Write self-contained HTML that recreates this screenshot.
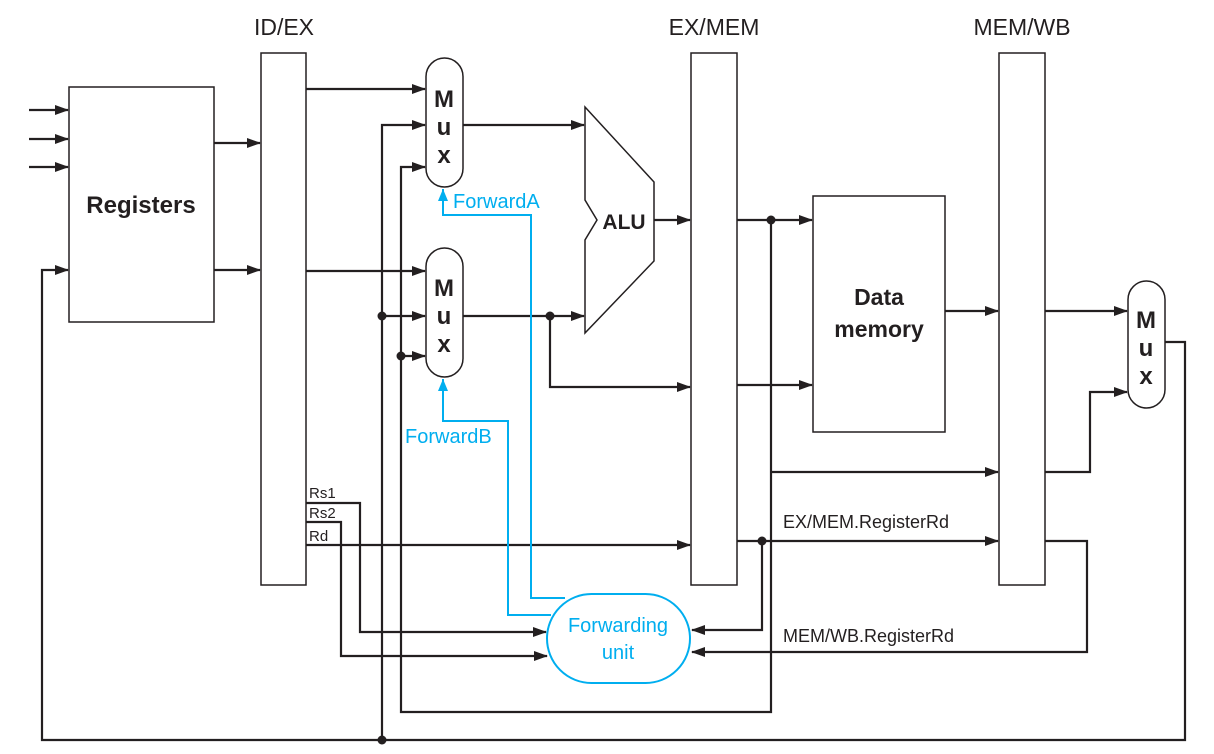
<!DOCTYPE html>
<html><head><meta charset="utf-8"><style>
html,body{margin:0;padding:0;background:#fff;}
svg{display:block;}
text{font-family:"Liberation Sans",sans-serif;}
</style></head><body>
<svg width="1214" height="754" viewBox="0 0 1214 754" xmlns="http://www.w3.org/2000/svg">
<defs>
<marker id="a" markerWidth="14" markerHeight="10" refX="13" refY="5" orient="auto" markerUnits="userSpaceOnUse"><path d="M0,0 L14,5 L0,10 z" fill="#231f20"/></marker>
<marker id="b" markerWidth="12" markerHeight="10" refX="12" refY="5" orient="auto" markerUnits="userSpaceOnUse"><path d="M0,0 L12,5 L0,10 z" fill="#00aeef"/></marker>
</defs>
<g fill="none" stroke="#231f20" stroke-width="1.5">
<rect x="69" y="87" width="145" height="235"/>
<rect x="261" y="53" width="45" height="532"/>
<rect x="691" y="53" width="46" height="532"/>
<rect x="999" y="53" width="46" height="532"/>
<rect x="813" y="196" width="132" height="236"/>
<rect x="426" y="58" width="37" height="129" rx="18.5"/>
<rect x="426" y="248" width="37" height="129" rx="18.5"/>
<rect x="1128" y="281" width="37" height="127" rx="18.5"/>
<path d="M585,107 L654,182 L654,261 L585,333 L585,240 L597,220 L585,200 Z"/>
</g>
<g fill="none" stroke="#231f20" stroke-width="2.2">
<path d="M29,110 H68" marker-end="url(#a)"/>
<path d="M29,139 H68" marker-end="url(#a)"/>
<path d="M29,167 H68" marker-end="url(#a)"/>
<path d="M214,143 H260" marker-end="url(#a)"/>
<path d="M214,270 H260" marker-end="url(#a)"/>
<path d="M306,89 H425" marker-end="url(#a)"/>
<path d="M306,271 H425" marker-end="url(#a)"/>
<path d="M382,740 V125 H425" marker-end="url(#a)"/>
<path d="M382,316 H425" marker-end="url(#a)"/>
<path d="M771,220 V712 H401 V167 H425" marker-end="url(#a)"/>
<path d="M401,356 H425" marker-end="url(#a)"/>
<path d="M463,125 H584" marker-end="url(#a)"/>
<path d="M463,316 H584" marker-end="url(#a)"/>
<path d="M550,316 V387 H690" marker-end="url(#a)"/>
<path d="M654,220 H690" marker-end="url(#a)"/>
<path d="M737,220 H812" marker-end="url(#a)"/>
<path d="M737,385 H812" marker-end="url(#a)"/>
<path d="M771,472 H998" marker-end="url(#a)"/>
<path d="M306,545 H690" marker-end="url(#a)"/>
<path d="M737,541 H998" marker-end="url(#a)"/>
<path d="M762,541 V630 H692" marker-end="url(#a)"/>
<path d="M1045,541 H1087 V652 H692" marker-end="url(#a)"/>
<path d="M945,311 H998" marker-end="url(#a)"/>
<path d="M1045,311 H1127" marker-end="url(#a)"/>
<path d="M1045,472 H1090 V392 H1127" marker-end="url(#a)"/>
<path d="M1165,342 H1185 V740 H42 V270 H68" marker-end="url(#a)"/>
<path d="M306,503 H360 V632 H546" marker-end="url(#a)"/>
<path d="M306,522 H341 V656 H547" marker-end="url(#a)"/>
</g>
<g fill="#231f20">
<circle cx="382" cy="316" r="4.5"/><circle cx="401" cy="356" r="4.5"/>
<circle cx="550" cy="316" r="4.5"/><circle cx="771" cy="220" r="4.5"/>
<circle cx="762" cy="541" r="4.5"/><circle cx="382" cy="740" r="4.5"/>
</g>
<g fill="none" stroke="#00aeef" stroke-width="2">
<rect x="547" y="594" width="143" height="89" rx="44.5"/>
<path d="M565,598 H531 V215 H443 V189" marker-end="url(#b)"/>
<path d="M551,615 H508 V421 H443 V379" marker-end="url(#b)"/>
</g>
<g fill="#231f20" font-weight="bold" font-size="24" text-anchor="middle">
<text x="141" y="213">Registers</text>
<text x="444" y="107">M</text><text x="444" y="135">u</text><text x="444" y="163">x</text>
<text x="444" y="296">M</text><text x="444" y="324">u</text><text x="444" y="352">x</text>
<text x="1146" y="328">M</text><text x="1146" y="356">u</text><text x="1146" y="384">x</text>
<text x="624" y="229" font-size="21">ALU</text>
<text x="879" y="305" font-size="23">Data</text>
<text x="879" y="337" font-size="23">memory</text>
</g>
<g fill="#231f20" font-size="23" text-anchor="middle">
<text x="284" y="35">ID/EX</text>
<text x="714" y="35">EX/MEM</text>
<text x="1022" y="35">MEM/WB</text>
</g>
<g fill="#231f20" font-size="18">
<text x="783" y="528">EX/MEM.RegisterRd</text>
<text x="783" y="642">MEM/WB.RegisterRd</text>
<text x="309" y="498" font-size="15">Rs1</text>
<text x="309" y="518" font-size="15">Rs2</text>
<text x="309" y="541" font-size="15">Rd</text>
</g>
<g fill="#00aeef" font-size="20">
<text x="453" y="208">ForwardA</text>
<text x="405" y="443">ForwardB</text>
<text x="618" y="632" text-anchor="middle">Forwarding</text>
<text x="618" y="659" text-anchor="middle">unit</text>
</g>
</svg>
</body></html>
